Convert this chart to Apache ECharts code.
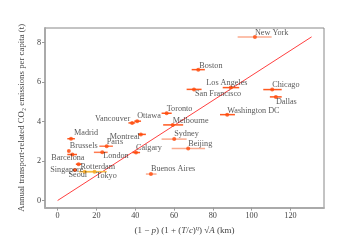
<!DOCTYPE html>
<html><head><meta charset="utf-8">
<script src="https://cdn.jsdelivr.net/npm/echarts@6/dist/echarts.min.js"></script>
<style>html,body{margin:0;padding:0;background:#fff}#c{width:360px;height:240px}</style>
</head><body><div id="c"></div>
<script>
// ---- data ----
const cities = ['New York','Boston','Los Angeles','San Francisco','Chicago','Dallas','Washington DC','Toronto','Melbourne','Sydney','Beijing','Buenos Aires','Ottawa','Vancouver','Montreal','Calgary','Paris','London','Madrid','Brussels','Barcelona','Rotterdam','Singapore','Seoul','Tokyo'];
const xValues = [101.7,72.5,89.3,70.3,110.6,112.5,87.4,56.2,59.3,60.1,67.3,48.1,41.0,38.4,42.9,40.4,25.3,23.0,6.9,5.8,7.6,10.8,8.9,14.0,19.0];
const xLow    = [92.8,69.1,85.1,66.5,106.0,109.4,83.7,53.6,54.4,53.6,58.8,45.5,39.5,36.5,41.5,38.5,21.5,18.7,5.0,5.6,5.0,9.4,8.0,11.0,15.0];
const xHigh   = [110.3,75.9,93.6,74.2,115.5,115.5,91.4,58.8,64.7,66.5,76.0,51.0,43.0,40.0,45.5,42.5,28.5,25.8,8.9,6.0,10.0,12.4,10.0,18.0,25.3];
const yValues = [8.29,6.63,5.72,5.63,5.62,5.25,4.35,4.42,3.83,3.11,2.63,1.34,4.02,3.93,3.35,2.43,2.75,2.44,3.13,2.51,2.33,1.84,1.54,1.46,1.46];
const fitX = [0, 130.9];
const fitY = [0, 8.29];
const xTicks = [0,20,40,60,80,100,120];
const yTicks = [0,2,4,6,8];

// ---- styling (not data) ----
const lightBar = {'New York':1,'Beijing':1,'Sydney':1,'Buenos Aires':1};
const midBar = {'Paris':1,'London':1};
const yellow = {'Seoul':1,'Tokyo':1};
const labelPlace = {
  'New York':['left',0,-4.5],'Boston':['left',1,-3.5],'Los Angeles':['center',-4,-4.5],
  'San Francisco':['left',1,4.5],'Chicago':['left',0,-4.5],'Dallas':['left',0,4.5],
  'Washington DC':['left',0,-4],'Toronto':['left',0,-4.5],'Melbourne':['left',0,-4],
  'Sydney':['left',0,-5],'Beijing':['left',0,-5],'Buenos Aires':['left',0,-5],
  'Ottawa':['left',0,-5.5],'Vancouver':['right',-2,-4],'Montreal':['right',-1,2],
  'Calgary':['left',0,-4.5],'Paris':['left',0,-4],'London':['left',1,4],
  'Madrid':['left',3,-6],'Brussels':['left',1,-5.5],'Barcelona':['center',-4.5,3],
  'Rotterdam':['left',2,3],'Singapore':['center',-8,0],'Seoul':['center',-7,3.5],
  'Tokyo':['left',1.5,4]
};
const serif = "'Liberation Serif','DejaVu Serif',serif";

function barColor(n){
  if (yellow[n]) return 'rgba(245,185,60,0.9)';
  if (lightBar[n]) return 'rgba(250,150,115,0.8)';
  if (midBar[n]) return 'rgba(255,100,50,0.85)';
  return 'rgba(255,80,20,0.95)';
}
function ptColor(n){ return yellow[n] ? '#f7a21a' : '#ff4a0a'; }

const errData = cities.map((n,i)=>[xLow[i], xHigh[i], yValues[i], i]);
const ptData = cities.map((n,i)=>{
  const p = labelPlace[n];
  return {
    name: n, value: [xValues[i], yValues[i]],
    itemStyle: {color: ptColor(n)},
    label: {show:true, position:'inside', align:p[0], verticalAlign:'middle', offset:[p[1],p[2]],
      formatter: n, color:'#2e2e2e', fontFamily: serif, fontSize: 8.2}
  };
});

const chart = echarts.init(document.getElementById('c'), null, {renderer:'canvas'});
chart.setOption({
  animation:false,
  backgroundColor:'#fff',
  grid:{left:45,right:36,top:28,bottom:30,show:true,borderColor:'#888',borderWidth:1},
  xAxis:{
    type:'value', min:-6.5, max:137.3,
    splitLine:{show:false},
    axisLine:{show:true,onZero:false,lineStyle:{color:'#aaa',width:2}},
    axisTick:{show:true,inside:false,length:3,customValues:xTicks,lineStyle:{color:'#999'}},
    axisLabel:{customValues:xTicks,margin:4,color:'#444',fontFamily:serif,fontSize:8.2},
    name:'{n|(1 − }{i|p}{n|) (1 + (}{i|T}{n|/}{i|c}{n|)}{s|η}{n|) √}{i|A}{n| (km)}',
    nameLocation:'middle', nameGap:11,
    nameTextStyle:{rich:{
      n:{fontFamily:serif,fontSize:9,color:'#444'},
      i:{fontFamily:serif,fontSize:9,fontStyle:'italic',color:'#444'},
      s:{fontFamily:serif,fontSize:6.5,fontStyle:'italic',color:'#444',padding:[0,0,5,0]}
    }}
  },
  yAxis:{
    type:'value', min:-0.36, max:8.74,
    splitLine:{show:false},
    axisLine:{show:true,onZero:false,lineStyle:{color:'#aaa',width:2}},
    axisTick:{show:true,inside:false,length:3,customValues:yTicks,lineStyle:{color:'#999'}},
    axisLabel:{customValues:yTicks,margin:4,color:'#444',fontFamily:serif,fontSize:8.2},
    name:'Annual transport-related CO₂ emissions per capita (t)',
    nameLocation:'middle', nameGap:9, nameRotate:90,
    nameTextStyle:{fontFamily:serif,fontSize:8.8,color:'#444'}
  },
  series:[
    {
      type:'line', data: fitX.map((x,i)=>[x, fitY[i]]), symbol:'none',
      lineStyle:{color:'#ff4040',width:1}, z:1, silent:true
    },
    {
      type:'custom', data: errData, z:2,
      renderItem:function(params, api){
        const a = api.coord([api.value(0), api.value(2)]);
        const b = api.coord([api.value(1), api.value(2)]);
        const n = cities[api.value(3)];
        return {type:'line', shape:{x1:a[0],y1:a[1],x2:b[0],y2:b[1]},
          style:{stroke:barColor(n), lineWidth:1.5}};
      }
    },
    {
      type:'scatter', data: ptData, symbol:'circle', symbolSize:4, z:3
    }
  ]
});
</script>
</body></html>
